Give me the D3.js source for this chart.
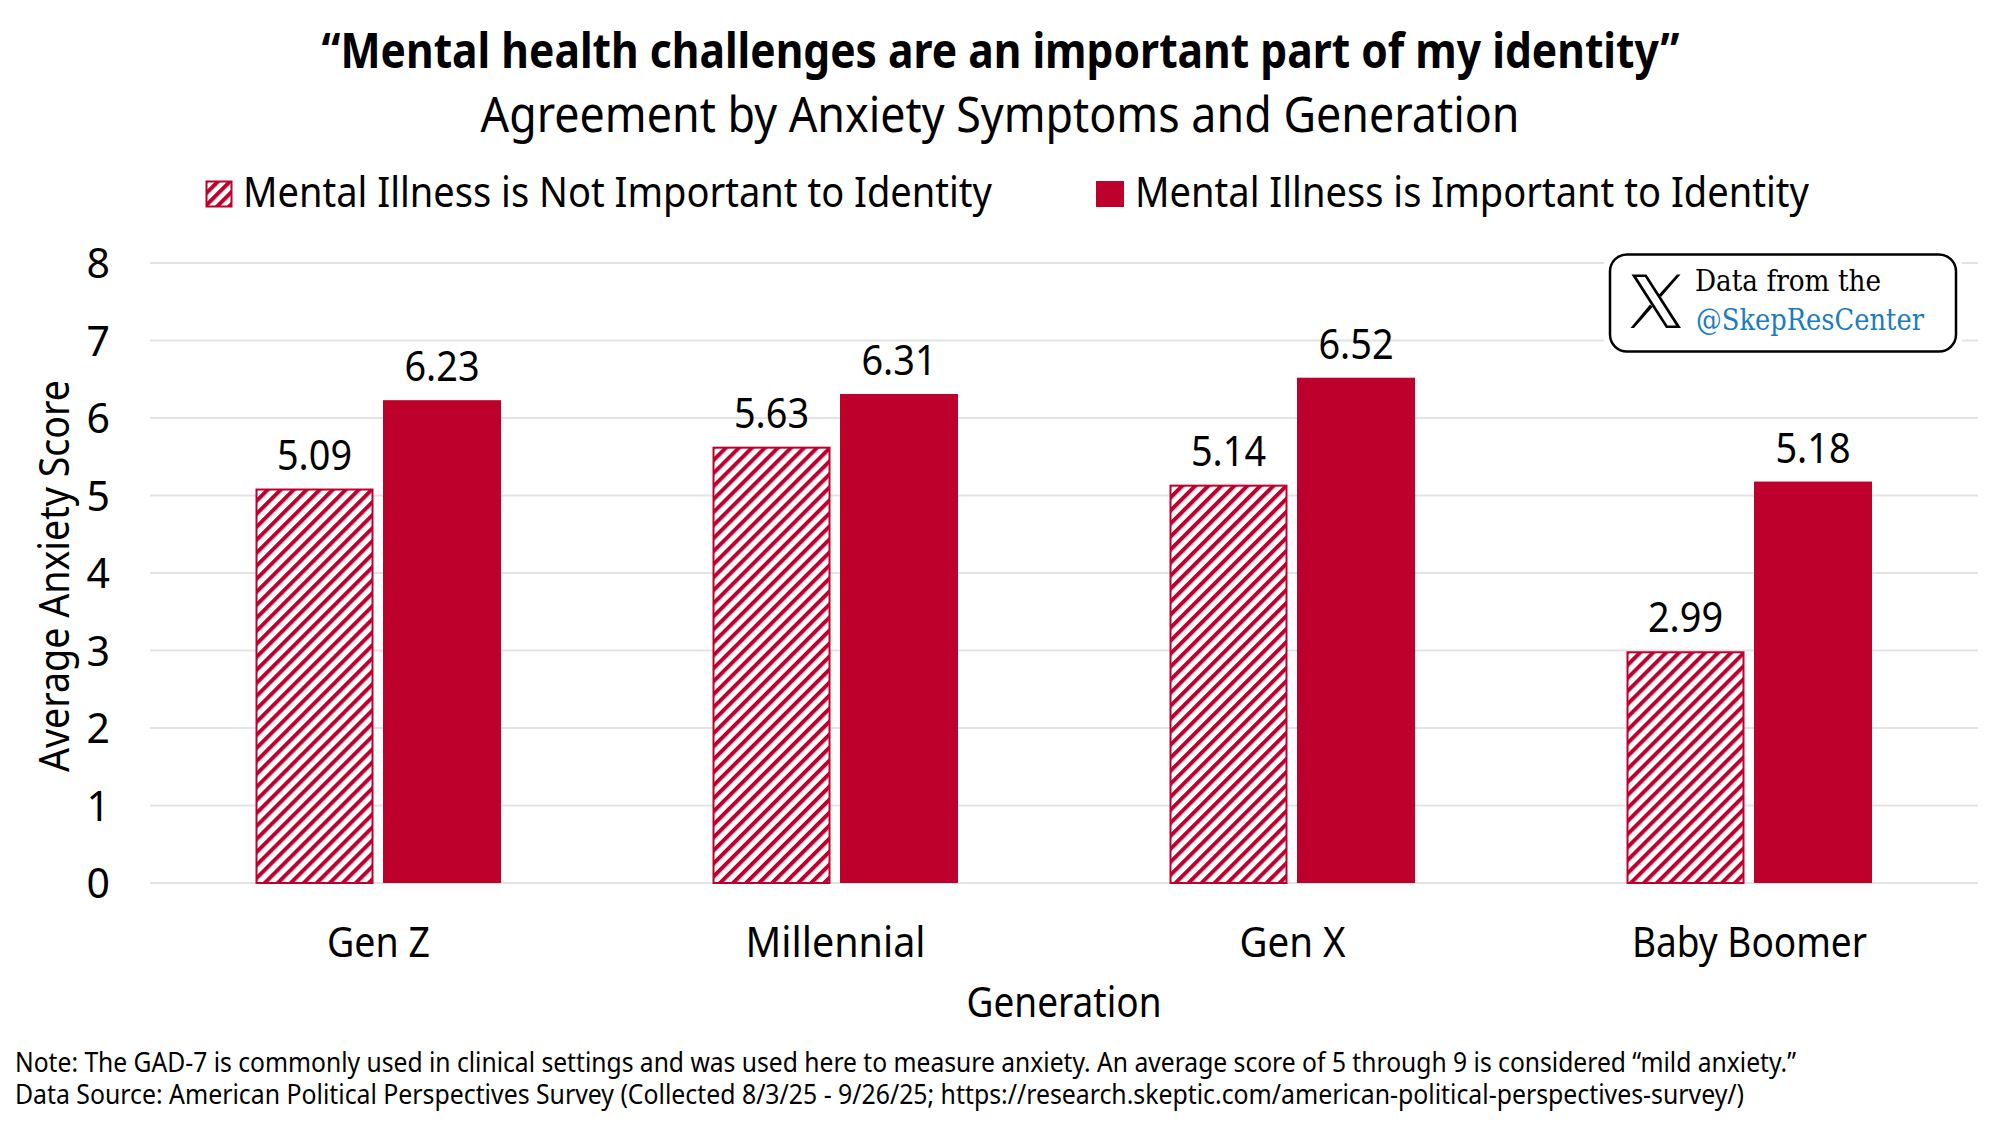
<!DOCTYPE html>
<html>
<head>
<meta charset="utf-8">
<script src="https://cdn.jsdelivr.net/npm/d3@7/dist/d3.min.js"></script>
<style>
html,body{margin:0;padding:0;background:#fff}
svg{display:block}
text{font-family:"Noto Sans",sans-serif;fill:#000}
</style>
</head>
<body>
<svg id="chart" width="2000" height="1125"></svg>
<script>
// Survey values: mean GAD-7 score by generation and identity group
const generations = ["Gen Z", "Millennial", "Gen X", "Baby Boomer"];
const notImportant = [5.09, 5.63, 5.14, 2.99];
const important = [6.23, 6.31, 6.52, 5.18];
const yTicks = [0, 1, 2, 3, 4, 5, 6, 7, 8];
const seriesNames = ["Mental Illness is Not Important to Identity", "Mental Illness is Important to Identity"];
const titleText = "\u201CMental health challenges are an important part of my identity\u201D";
const subtitleText = "Agreement by Anxiety Symptoms and Generation";
const noteLines = [
  "Note: The GAD-7 is commonly used in clinical settings and was used here to measure anxiety. An average score of 5 through 9 is considered \u201Cmild anxiety.\u201D",
  "Data Source: American Political Perspectives Survey (Collected 8/3/25 - 9/26/25; https://research.skeptic.com/american-political-perspectives-survey/)"
];

const RED = "#BE002C";
const GRID = "#E3E3E3";
const svg = d3.select("#chart");

// Text helper: places a label and fits it to a given run length
function label(parent, str, x, y, size, len, opts = {}) {
  const t = parent.append("text")
    .attr("x", x).attr("y", y)
    .attr("font-size", size)
    .attr("text-anchor", opts.anchor || "start")
    .attr("font-weight", opts.weight || 400)
    .text(str);
  if (len) t.attr("textLength", len).attr("lengthAdjust", "spacingAndGlyphs");
  if (opts.fill) t.style("fill", opts.fill);
  if (opts.family) t.style("font-family", opts.family);
  if (opts.transform) t.attr("transform", opts.transform);
  return t;
}

// Diagonal hatch fills for the bars and the legend swatch
const defs = svg.append("defs");
function hatch(id, period, stroke) {
  const p = defs.append("pattern").attr("id", id)
    .attr("patternUnits", "userSpaceOnUse")
    .attr("width", period).attr("height", period)
    .attr("patternTransform", "rotate(45)");
  p.append("rect").attr("width", period).attr("height", period).attr("fill", "#fff");
  p.append("rect").attr("width", stroke).attr("height", period).attr("fill", RED);
}
hatch("hatchBar", 9.2, 4);
hatch("hatchKey", 8.5, 4);

// Scales
const x = d3.scaleBand().domain(generations).range([150, 1978]);
const y = d3.scaleLinear().domain([0, 8]).range([883, 263]);
const barW = 118, barGap = 10;
const xOf = (g, i) => x(g) + x.bandwidth() / 2 + (i === 0 ? -barW - barGap / 2 : barGap / 2 - 0.5);

// Value axis with full-width gridlines
const yAxis = d3.axisLeft(y).tickValues(yTicks).tickSize(0).tickPadding(0);
const gy = svg.append("g").attr("transform", "translate(110,0)").call(yAxis);
gy.select(".domain").remove();
gy.selectAll("text").attr("font-size", 41).attr("dy", "0.36em").attr("x", 0)
  .style("font-family", '"Noto Sans",sans-serif');

svg.append("g").selectAll("line").data(yTicks).join("line")
  .attr("x1", 150).attr("x2", 1978)
  .attr("y1", d => y(d)).attr("y2", d => y(d))
  .attr("stroke", GRID).attr("stroke-width", 2);

// Bars; the hatched bars keep their outline inside the bar width
const groups = svg.append("g").selectAll("g").data(generations).join("g");
groups.append("rect")
  .attr("x", g => xOf(g, 0) + 1).attr("width", barW - 2)
  .attr("y", (g, i) => y(notImportant[i]) + 1)
  .attr("height", (g, i) => y(0) - y(notImportant[i]) - 1)
  .attr("fill", "url(#hatchBar)").attr("stroke", RED).attr("stroke-width", 2);
groups.append("rect")
  .attr("x", g => xOf(g, 1)).attr("width", barW)
  .attr("y", (g, i) => y(important[i]))
  .attr("height", (g, i) => y(0) - y(important[i]))
  .attr("fill", RED);

// Value labels
groups.each(function (g, i) {
  const sel = d3.select(this);
  label(sel, notImportant[i].toFixed(2), xOf(g, 0) + barW / 2, y(notImportant[i]) - 19, 42, 75, { anchor: "middle" });
  label(sel, important[i].toFixed(2), xOf(g, 1) + barW / 2, y(important[i]) - 19, 42, 75, { anchor: "middle" });
});

// Category axis
const xAxis = d3.axisBottom(x).tickSize(0).tickPadding(0);
const gx = svg.append("g").attr("transform", "translate(0,957)").call(xAxis);
gx.select(".domain").remove();
const catLen = [103, 180, 106, 235];
gx.selectAll("text")
  .attr("font-size", 41).attr("dy", 0).attr("y", 0)
  .attr("textLength", (d, i) => catLen[i])
  .attr("lengthAdjust", "spacingAndGlyphs")
  .style("font-family", '"Noto Sans",sans-serif');

// Axis titles
label(svg, "Generation", 1064, 1017, 41, 195, { anchor: "middle" });
label(svg, "Average Anxiety Score", 0, 0, 41, 392, { anchor: "middle", transform: "translate(69,576) rotate(-90)" });

// Headline
label(svg, titleText, 1000.5, 68, 49, 1358, { anchor: "middle", weight: 700 });
label(svg, subtitleText, 1000, 132, 49, 1039, { anchor: "middle" });

// Legend
svg.append("rect").attr("x", 206.5).attr("y", 181.5).attr("width", 25).attr("height", 25)
  .attr("fill", "url(#hatchKey)").attr("stroke", RED).attr("stroke-width", 2);
label(svg, seriesNames[0], 243, 207, 41, 749);
svg.append("rect").attr("x", 1096).attr("y", 181).attr("width", 28).attr("height", 26).attr("fill", RED);
label(svg, seriesNames[1], 1135, 207, 41, 674);

// Footnotes
label(svg, noteLines[0], 15, 1072, 26.5, 1781);
label(svg, noteLines[1], 15, 1104, 26.5, 1729);

// Social badge: rounded frame with a white halo over the gridlines
const badge = svg.append("g");
badge.append("rect").attr("x", 1604).attr("y", 250).attr("width", 358).attr("height", 108).attr("fill", "#fff");
badge.append("rect").attr("x", 1610).attr("y", 254.5).attr("width", 346).attr("height", 97).attr("rx", 17)
  .attr("fill", "#fff").attr("stroke", "#000").attr("stroke-width", 2.5);
const mark = badge.append("g").attr("transform", "translate(1630,273)");
mark.append("path")
  .attr("d", "M1.5,1.5 H16.5 L51,55 H36 Z M6.5,4 L37.5,52.5 H46 L15,4 Z")
  .attr("fill", "#000").attr("fill-rule", "evenodd");
mark.append("path").attr("d", "M47,1.5 H50.5 L31,24 L29,21.5 Z").attr("fill", "#000");
mark.append("path").attr("d", "M20,31.5 L22.5,34 L4,55 H0.5 Z").attr("fill", "#000");
const serif = '"DejaVu Serif","Liberation Serif",serif';
label(badge, "Data from the", 1695, 291, 29, 186, { family: serif });
label(badge, "@SkepResCenter", 1696, 330, 29, 228, { family: serif, fill: "#1B7CC0" });
</script>
</body>
</html>
